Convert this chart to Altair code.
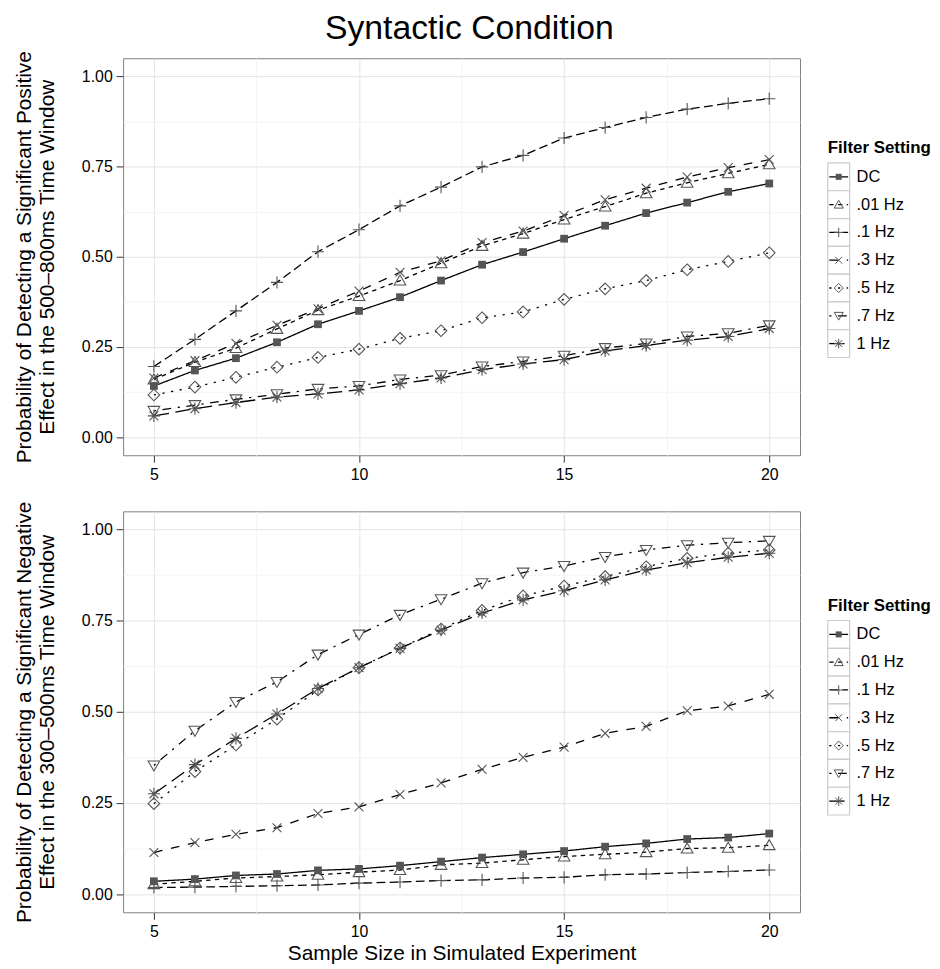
import altair as alt
import pandas as pd

# ---------------- data ----------------
sample_sizes = [5, 6, 7, 8, 9, 10, 11, 12, 13, 14, 15, 16, 17, 18, 19, 20]
filters = ["DC", ".01 Hz", ".1 Hz", ".3 Hz", ".5 Hz", ".7 Hz", "1 Hz"]

# Positive effect, 500-800 ms window
pos_dc   = [0.142, 0.185, 0.219, 0.263, 0.313, 0.350, 0.388, 0.434, 0.478, 0.513, 0.550, 0.586, 0.621, 0.650, 0.680, 0.703]
pos_01   = [0.160, 0.208, 0.247, 0.300, 0.352, 0.391, 0.434, 0.482, 0.530, 0.564, 0.603, 0.639, 0.676, 0.705, 0.731, 0.756]
pos_1    = [0.196, 0.271, 0.350, 0.429, 0.514, 0.575, 0.641, 0.693, 0.749, 0.781, 0.829, 0.858, 0.886, 0.909, 0.925, 0.938]
pos_3    = [0.164, 0.212, 0.260, 0.310, 0.356, 0.405, 0.457, 0.489, 0.539, 0.571, 0.614, 0.658, 0.690, 0.721, 0.747, 0.769]
pos_5    = [0.117, 0.139, 0.166, 0.194, 0.221, 0.244, 0.274, 0.295, 0.331, 0.347, 0.382, 0.411, 0.434, 0.464, 0.487, 0.511]
pos_7    = [0.073, 0.089, 0.105, 0.119, 0.134, 0.142, 0.160, 0.172, 0.196, 0.210, 0.226, 0.247, 0.260, 0.279, 0.288, 0.310]
pos_1hz  = [0.059, 0.079, 0.096, 0.111, 0.120, 0.131, 0.148, 0.164, 0.187, 0.203, 0.215, 0.239, 0.254, 0.269, 0.279, 0.301]

# Negative effect, 300-500 ms window
neg_dc   = [0.035, 0.041, 0.051, 0.055, 0.065, 0.069, 0.078, 0.089, 0.100, 0.109, 0.118, 0.130, 0.139, 0.151, 0.155, 0.166]
neg_01   = [0.027, 0.035, 0.044, 0.048, 0.053, 0.060, 0.066, 0.080, 0.085, 0.094, 0.103, 0.109, 0.115, 0.125, 0.127, 0.134]
neg_1    = [0.018, 0.019, 0.021, 0.023, 0.025, 0.030, 0.033, 0.037, 0.039, 0.044, 0.046, 0.053, 0.055, 0.059, 0.062, 0.066]
neg_3    = [0.114, 0.141, 0.164, 0.182, 0.221, 0.239, 0.273, 0.305, 0.342, 0.375, 0.403, 0.441, 0.460, 0.503, 0.516, 0.548]
neg_5    = [0.248, 0.336, 0.409, 0.480, 0.560, 0.621, 0.675, 0.727, 0.778, 0.818, 0.845, 0.871, 0.898, 0.921, 0.935, 0.944]
neg_7    = [0.353, 0.448, 0.527, 0.582, 0.657, 0.712, 0.766, 0.809, 0.853, 0.882, 0.900, 0.925, 0.944, 0.957, 0.964, 0.969]
neg_1hz  = [0.275, 0.355, 0.427, 0.494, 0.564, 0.621, 0.674, 0.724, 0.771, 0.807, 0.832, 0.862, 0.889, 0.909, 0.924, 0.935]

chart_title = "Syntactic Condition"
legend_title = "Filter Setting"
x_title = "Sample Size in Simulated Experiment"
y_title_pos = ["Probability of Detecting a Significant Positive", "Effect in the 500\u2013800ms Time Window"]
y_title_neg = ["Probability of Detecting a Significant Negative", "Effect in the 300\u2013500ms Time Window"]
x_tick_values = [5, 7.5, 10, 12.5, 15, 17.5, 20]
y_tick_values = [0, 0.125, 0.25, 0.375, 0.5, 0.625, 0.75, 0.875, 1.0]


def long_frame(series):
    rows = []
    for name, vals in zip(filters, series):
        for n, p in zip(sample_sizes, vals):
            rows.append({"n": n, "p": p, "filter": name})
    return pd.DataFrame(rows)


df_pos = long_frame([pos_dc, pos_01, pos_1, pos_3, pos_5, pos_7, pos_1hz])
df_neg = long_frame([neg_dc, neg_01, neg_1, neg_3, neg_5, neg_7, neg_1hz])
df_legend = pd.DataFrame({"filter": filters})
df_legend_title = pd.DataFrame({"t": [legend_title]})

# ---------------- styles ----------------
FONT = "Liberation Sans"
PT_COLOR = "#555555"
W = 682

dash_scale = alt.Scale(
    domain=filters,
    range=[[1, 0], [4.4, 4.4], [8.8, 4.4], [8.8, 8.8], [2.2, 6.6], [2.2, 6.6, 8.8, 6.6], [15.4, 6.6]],
)
shape_scale = alt.Scale(
    domain=filters,
    range=[
        "M-0.7,-0.7H0.7V0.7H-0.7Z",
        "M0,-1L1.05,0.8L-1.05,0.8Z",
        "M-1.1,0H1.1M0,-1.1V1.1",
        "M-0.8,-0.8L0.8,0.8M-0.8,0.8L0.8,-0.8",
        "M0,-1.05L1.05,0L0,1.05L-1.05,0Z",
        "M0,1L1.05,-0.8L-1.05,-0.8Z",
        "M-1.1,0H1.1M0,-1.1V1.1M-0.8,-0.8L0.8,0.8M-0.8,0.8L0.8,-0.8",
    ],
)
PT_SIZE = 125

major_x = "datum.value % 5 == 0"
major_y = "datum.value % 0.25 == 0"


def panel(df, y_title, show_x_title, h):
    x_axis = alt.Axis(
        values=x_tick_values,
        labelExpr=f"{major_x} ? datum.label : ''",
        format="d",
        tickOpacity={"condition": {"test": major_x, "value": 1}, "value": 0},
        gridColor={"condition": {"test": major_x, "value": "#e3e3e3"}, "value": "#f4f4f4"},
        title=x_title if show_x_title else "",
    )
    y_axis = alt.Axis(
        values=y_tick_values,
        labelExpr=f"{major_y} ? format(datum.value, '.2f') : ''",
        tickOpacity={"condition": {"test": major_y, "value": 1}, "value": 0},
        gridColor={"condition": {"test": major_y, "value": "#e3e3e3"}, "value": "#f4f4f4"},
        title=y_title,
    )
    x = alt.X("n:Q", scale=alt.Scale(domain=[4.25, 20.75], nice=False, zero=False), axis=x_axis)
    y = alt.Y("p:Q", scale=alt.Scale(domain=[-0.05, 1.05], nice=False, zero=False), axis=y_axis)
    base = alt.Chart(df)
    lines = base.mark_line(color="black", strokeWidth=1.3).encode(
        x=x, y=y,
        strokeDash=alt.StrokeDash("filter:N", scale=dash_scale, legend=None),
    )
    pts_open = base.transform_filter("datum.filter != 'DC'").mark_point(
        filled=False, color=PT_COLOR, strokeWidth=1.1, opacity=1, size=PT_SIZE
    ).encode(x=x, y=y, shape=alt.Shape("filter:N", scale=shape_scale, legend=None))
    pts_fill = base.transform_filter("datum.filter == 'DC'").mark_point(
        filled=True, color=PT_COLOR, opacity=1, size=PT_SIZE
    ).encode(x=x, y=y, shape=alt.Shape("filter:N", scale=shape_scale, legend=None))
    return alt.layer(lines, pts_open, pts_fill).properties(width=W, height=h)


def legend(top_title, band_top, h):
    band = 28
    y = alt.Y(
        "filter:N",
        sort=filters,
        scale=alt.Scale(domain=filters, range=[band_top, band_top + band * len(filters)], paddingInner=0, paddingOuter=0),
        axis=None,
    )
    base = alt.Chart(df_legend)
    boxes = base.mark_rect(fill="white", stroke="#cccccc", strokeWidth=1.2).encode(
        y=y, x=alt.value(0), x2=alt.value(22)
    )
    keys = base.mark_rule(color="black", strokeWidth=1.3).encode(
        y=y, x=alt.value(1.5), x2=alt.value(20.5),
        strokeDash=alt.StrokeDash("filter:N", scale=dash_scale, legend=None),
    )
    pts_open = base.transform_filter("datum.filter != 'DC'").mark_point(
        filled=False, color=PT_COLOR, strokeWidth=1, opacity=1, size=PT_SIZE * 0.6
    ).encode(y=y, x=alt.value(11), shape=alt.Shape("filter:N", scale=shape_scale, legend=None))
    pts_fill = base.transform_filter("datum.filter == 'DC'").mark_point(
        filled=True, color=PT_COLOR, opacity=1, size=PT_SIZE * 0.6
    ).encode(y=y, x=alt.value(11), shape=alt.Shape("filter:N", scale=shape_scale, legend=None))
    labels = base.mark_text(align="left", baseline="middle", font=FONT, fontSize=16.5, color="black").encode(
        y=y, x=alt.value(29), text="filter:N"
    )
    title = alt.Chart(df_legend_title).mark_text(
        align="left", baseline="middle", font=FONT, fontSize=17, fontWeight="bold", color="black"
    ).encode(x=alt.value(0), y=alt.value(top_title), text="t:N")
    return alt.layer(boxes, keys, pts_open, pts_fill, labels, title).properties(
        width=100, height=h, view=alt.ViewBackground(stroke="transparent")
    )


row1 = alt.hconcat(panel(df_pos, y_title_pos, False, 400), legend(90, 105.5, 400), spacing=25)
row2 = alt.hconcat(panel(df_neg, y_title_neg, True, 404), legend(95, 110, 404), spacing=25)

chart = alt.vconcat(row1, row2, spacing=17.5).properties(
    title=alt.TitleParams(chart_title, font=FONT, fontSize=34, fontWeight="normal", color="black",
                          anchor="middle", dx=-3, offset=4.5),
    padding={"left": 5, "top": 0, "right": 0, "bottom": 0},
).configure_view(
    stroke="#7f7f7f", strokeWidth=1
).configure_axis(
    domain=False,
    tickColor="#333333",
    tickSize=7,
    tickWidth=1,
    labelFont=FONT,
    labelFontSize=16,
    labelColor="black",
    labelPadding=4,
    titleFont=FONT,
    titleFontSize=21,
    titleFontWeight="normal",
    titleColor="black",
    gridWidth=1,
).configure_axisY(
    titlePadding=24,
).configure_axisX(
    titlePadding=4,
)

chart.save("out.html", embed_options={"renderer": "svg", "actions": False})
